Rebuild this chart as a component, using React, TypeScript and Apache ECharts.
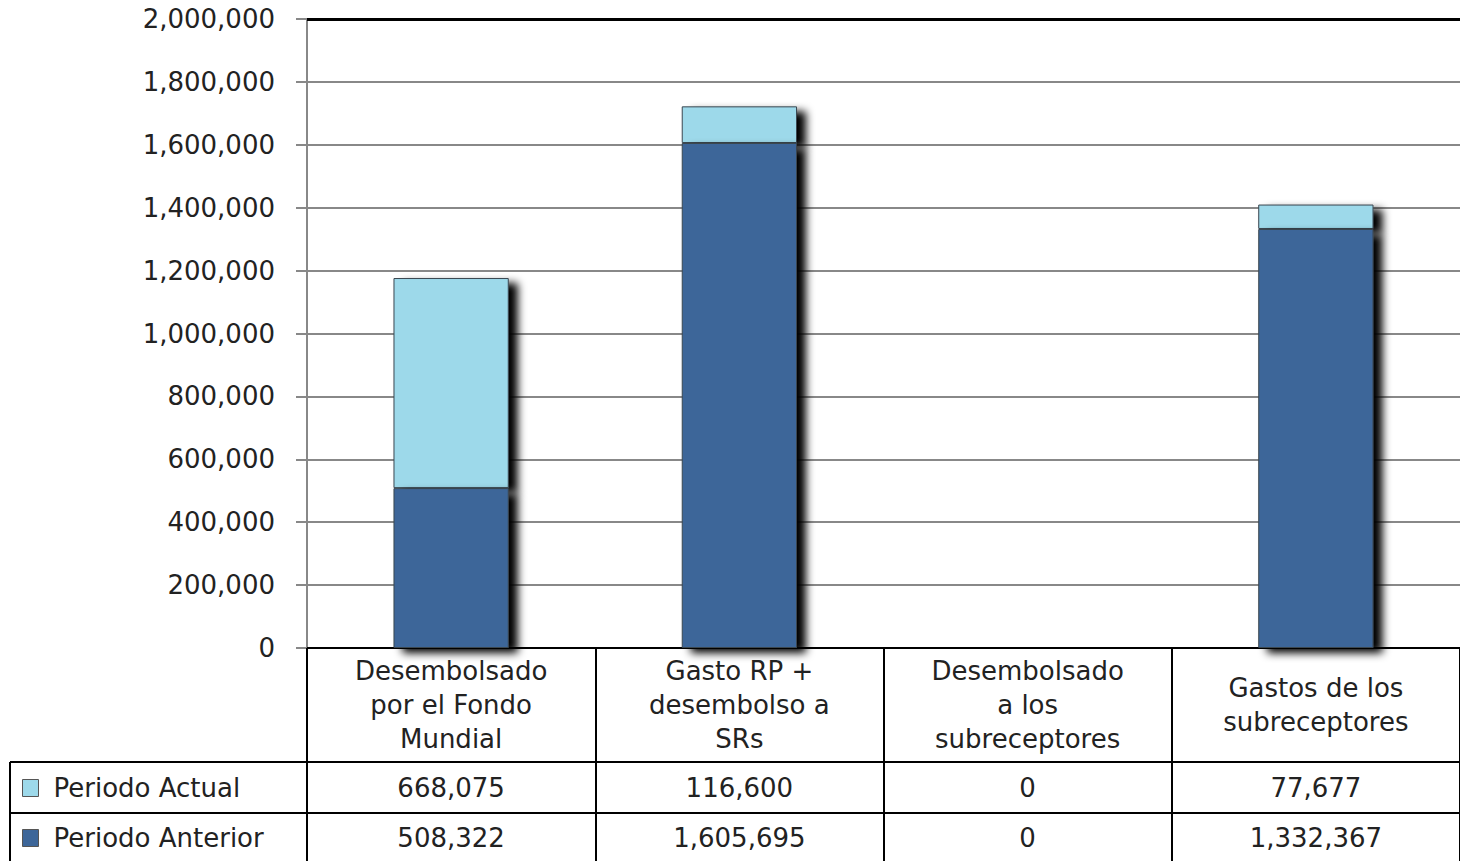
import React, { useEffect, useRef } from "react";
import * as echarts from "echarts";

const categories = [
  "Desembolsado\npor el Fondo\nMundial",
  "Gasto RP +\ndesembolso a\nSRs",
  "Desembolsado\na los\nsubreceptores",
  "Gastos de los\nsubreceptores",
];
const seriesNames = ["Periodo Actual", "Periodo Anterior"];
const periodoActual = [668075, 116600, 0, 77677];
const periodoAnterior = [508322, 1605695, 0, 1332367];
const yTicks = { min: 0, max: 2000000, interval: 200000 };

const FONT = "DejaVu Sans";
const TEXT = "#222";
const LIGHT = "#9DD9EA";
const DARK = "#3D6699";
const fmt = (v: number) => v.toLocaleString("en-US");

export default function App() {
  const ref = useRef<HTMLDivElement>(null);
  useEffect(() => {
    if (!ref.current) return;
    const chart = echarts.init(ref.current, undefined, { renderer: "svg" });
    const shadow = {
      shadowBlur: 9,
      shadowColor: "rgba(0,0,0,1)",
      shadowOffsetX: 9,
      shadowOffsetY: 5,
    };
    const legendBase = {
      orient: "horizontal",
      left: 22,
      itemWidth: 16,
      itemHeight: 17,
      icon: "rect",
      selectedMode: false,
      padding: 0,
      itemStyle: { borderColor: "#555", borderWidth: 1, shadowBlur: 0, shadowOffsetX: 0, shadowOffsetY: 0, shadowColor: "transparent" },
      textStyle: { fontFamily: FONT, fontSize: 26, color: TEXT, lineHeight: 30, padding: [0, 0, 0, 10] },
    };
    chart.setOption({
      animation: false,
      backgroundColor: "#fff",
      textStyle: { fontFamily: FONT },
      grid: { left: 307, right: 0, top: 19, bottom: 213, containLabel: false },
      legend: [
        { ...legendBase, data: [seriesNames[0]], top: 773 },
        { ...legendBase, data: [seriesNames[1]], top: 823 },
      ],
      xAxis: {
        type: "category",
        data: categories,
        axisLine: { lineStyle: { color: "#000", width: 2 } },
        axisTick: { show: true, length: 213, interval: 0, lineStyle: { color: "#000", width: 2 } },
        axisLabel: {
          interval: 0,
          fontFamily: FONT,
          fontSize: 26,
          lineHeight: 34,
          color: TEXT,
          verticalAlign: "middle",
          margin: 57,
        },
      },
      yAxis: {
        type: "value",
        min: yTicks.min,
        max: yTicks.max,
        interval: yTicks.interval,
        axisLine: { show: true, lineStyle: { color: "#888", width: 2 } },
        axisTick: { show: true, length: 11, lineStyle: { color: "#888", width: 2 } },
        axisLabel: { fontFamily: FONT, fontSize: 26, color: TEXT, margin: 32, formatter: (v: number) => fmt(v) },
        splitLine: { lineStyle: { color: "#888", width: 2 } },
      },
      series: [
        {
          name: seriesNames[1],
          type: "bar",
          stack: "total",
          barWidth: "40%",
          z: 3,
          data: periodoAnterior.map((v) => (v === 0 ? null : v)),
          itemStyle: { color: DARK, borderColor: "#3a4650", borderWidth: 1, ...shadow },
        },
        {
          name: seriesNames[0],
          type: "bar",
          stack: "total",
          barWidth: "40%",
          z: 2,
          data: periodoActual.map((v) => (v === 0 ? null : v)),
          itemStyle: { color: LIGHT, borderColor: "#3a4650", borderWidth: 1, ...shadow },
          markLine: {
            silent: true,
            symbol: "none",
            label: { show: false },
            lineStyle: { color: "#000", width: 3, type: "solid" },
            data: [{ yAxis: yTicks.max }],
          },
        },
      ],
    });

    // data table under the axis
    const c0 = chart.convertToPixel({ xAxisIndex: 0 }, categories[0]) as number;
    const c1 = chart.convertToPixel({ xAxisIndex: 0 }, categories[1]) as number;
    const band = c1 - c0;
    const y0 = chart.convertToPixel({ yAxisIndex: 0 }, 0) as number;
    const W = chart.getWidth();
    const H = chart.getHeight();
    const r1 = y0 + 114;
    const r2 = y0 + 165;
    const els: any[] = [
      { type: "line", shape: { x1: 10, y1: r1, x2: W, y2: r1 }, style: { stroke: "#000", lineWidth: 2 } },
      { type: "line", shape: { x1: 10, y1: r2, x2: W, y2: r2 }, style: { stroke: "#000", lineWidth: 2 } },
      { type: "line", shape: { x1: 10, y1: r1, x2: 10, y2: H }, style: { stroke: "#000", lineWidth: 2 } },
    ];
    categories.forEach((_, i) => {
      const cx = c0 + band * i;
      els.push({
        type: "text",
        x: cx,
        y: (r1 + r2) / 2,
        style: { text: fmt(periodoActual[i]), fontFamily: FONT, fontSize: 26, fill: TEXT, align: "center", verticalAlign: "middle" },
      });
      els.push({
        type: "text",
        x: cx,
        y: (r2 + H) / 2 + 1,
        style: { text: fmt(periodoAnterior[i]), fontFamily: FONT, fontSize: 26, fill: TEXT, align: "center", verticalAlign: "middle" },
      });
    });
    chart.setOption({ graphic: { elements: els } });
    return () => chart.dispose();
  }, []);
  return (
    <div
      ref={ref}
      style={{ position: "fixed", left: 0, top: 0, width: 1460, height: 861, background: "#fff" }}
    />
  );
}
